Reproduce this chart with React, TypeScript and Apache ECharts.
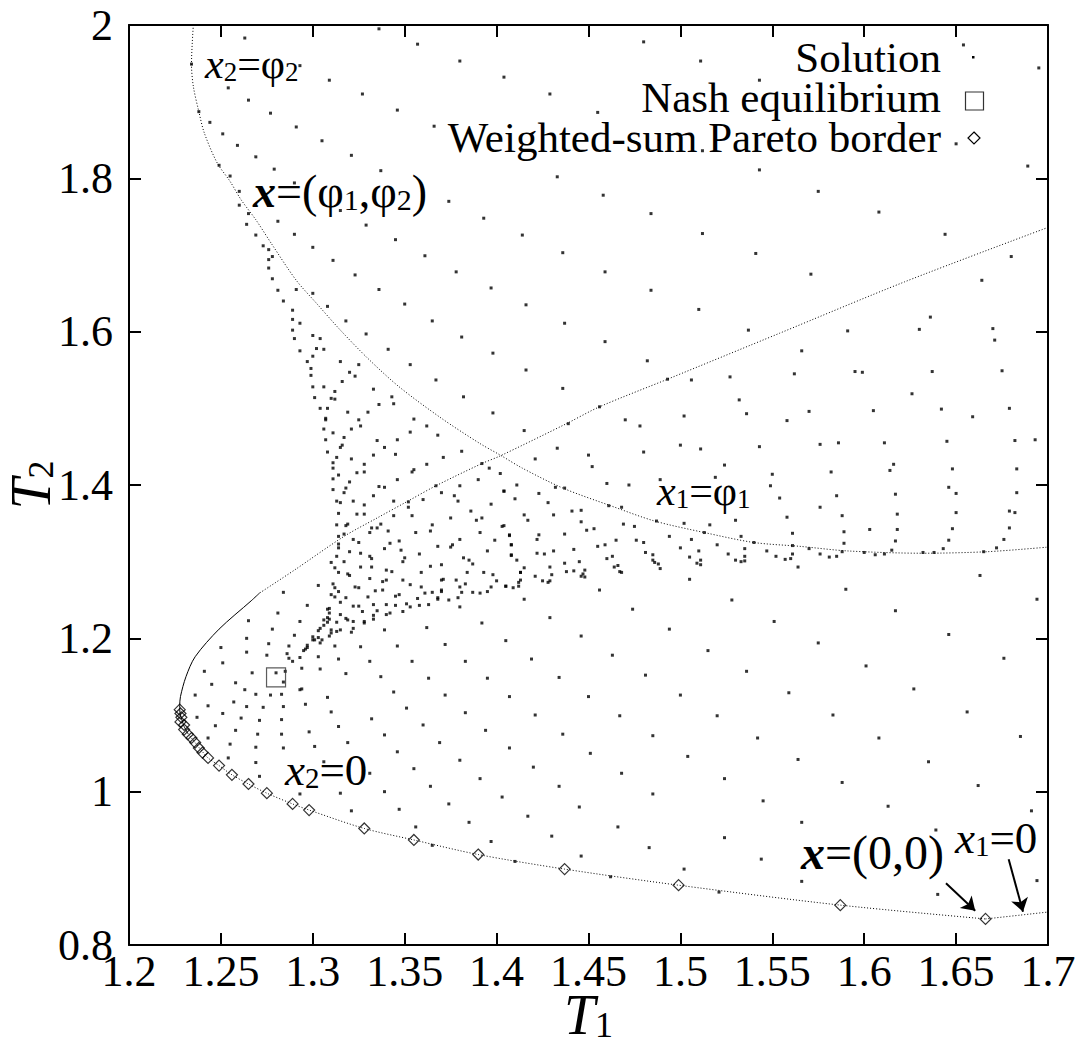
import React, { useEffect, useRef } from 'react';
import * as echarts from 'echarts';

const FONT = 'Liberation Serif';

// Axis ranges
const xRange = { min: 1.2, max: 1.7, interval: 0.05 };
const yRange = { min: 0.8, max: 2.0, interval: 0.2 };

// Solution points [T1, T2]
const solutionUpperLeft: number[][] = [
  [1.263,1.983],[1.336,1.995],[1.357,1.975],[1.380,1.953],[1.404,1.932],[1.309,1.928],[1.327,1.910],[1.293,1.947],
  [1.254,1.918],[1.265,1.902],[1.277,1.885],[1.291,1.867],[1.346,1.889],[1.244,1.873],[1.251,1.858],[1.259,1.843],
  [1.269,1.828],[1.305,1.849],[1.321,1.830],[1.279,1.812],[1.290,1.794],[1.337,1.810],[1.374,1.770],[1.393,1.748],
  [1.414,1.726],[1.315,1.758],[1.329,1.739],[1.281,1.744],[1.290,1.727],[1.300,1.710],[1.311,1.693],[1.323,1.674],
  [1.336,1.655],[1.350,1.636],[1.365,1.614],[1.381,1.593],[1.398,1.572],[1.416,1.550],[1.361,1.699],[1.378,1.678],
  [1.397,1.657],[1.416,1.635],[1.345,1.720],[1.366,1.868],[1.388,1.846],
  [1.234,1.949],[1.238,1.887],[1.249,1.817],[1.255,1.803],[1.260,1.783],[1.260,1.765],[1.265,1.754],[1.264,1.740],
  [1.269,1.726],[1.273,1.712],[1.276,1.707],[1.278,1.698],[1.276,1.694],[1.276,1.683],[1.278,1.669],[1.281,1.654],
  [1.284,1.640],[1.289,1.628],[1.289,1.616],[1.293,1.611],[1.289,1.602],[1.291,1.655],[1.300,1.650],[1.308,1.633],
  [1.318,1.614],[1.290,1.591],[1.300,1.595],[1.304,1.591],[1.302,1.578],[1.306,1.577],[1.293,1.575],[1.315,1.561],
  [1.325,1.557],[1.341,1.577],[1.329,1.597],[1.320,1.547],[1.323,1.542],[1.297,1.561],[1.299,1.552],[1.299,1.543],
  [1.300,1.528],[1.306,1.528],[1.312,1.522],[1.333,1.525],[1.343,1.515],[1.353,1.557],[1.367,1.537],[1.382,1.515],
  [1.310,1.513],[1.300,1.568],[1.316,1.535],[1.301,1.514],[1.312,1.512],
];

const solutionUpperRight: number[][] = [
  [1.480,1.978],[1.511,1.953],[1.543,1.928],[1.654,1.974],[1.695,1.944],[1.429,1.910],[1.455,1.886],[1.650,1.845],
  [1.512,1.836],[1.689,1.816],[1.433,1.802],[1.543,1.811],[1.458,1.778],[1.575,1.783],[1.484,1.754],[1.608,1.756],
  [1.512,1.728],[1.644,1.727],[1.436,1.703],[1.541,1.702],[1.680,1.698],[1.459,1.678],[1.571,1.675],[1.664,1.667],
  [1.484,1.654],[1.510,1.629],[1.636,1.619],[1.437,1.611],[1.537,1.602],[1.591,1.601],[1.630,1.603],[1.670,1.604],
  [1.671,1.589],[1.459,1.587],[1.566,1.575],[1.482,1.562],[1.506,1.537],[1.527,1.541],[1.562,1.545],[1.595,1.548],
  [1.599,1.547],[1.637,1.548],[1.675,1.549],[1.436,1.526],[1.626,1.519],[1.493,1.538],
];

const solutionRight: number[][] = [
  [1.570,1.496],[1.558,1.484],[1.605,1.497],[1.642,1.499],[1.659,1.489],[1.679,1.500],[1.576,1.453],[1.586,1.455],
  [1.611,1.455],[1.645,1.457],[1.682,1.458],[1.693,1.459],[1.616,1.427],[1.614,1.419],[1.582,1.417],[1.648,1.421],
  [1.683,1.421],[1.554,1.383],[1.585,1.386],[1.617,1.388],[1.646,1.397],[1.650,1.389],[1.683,1.390],[1.576,1.371],
  [1.558,1.358],[1.588,1.360],[1.618,1.362],[1.650,1.364],[1.679,1.366],[1.682,1.364],[1.561,1.337],[1.589,1.339],
  [1.603,1.342],[1.618,1.342],[1.648,1.343],[1.679,1.344],[1.561,1.321],[1.589,1.324],[1.617,1.327],[1.646,1.328],
  [1.676,1.329],[1.570,1.317],[1.615,1.315],[1.643,1.317],[1.672,1.318],[1.561,1.310],[1.560,1.304],[1.557,1.303],
  [1.576,1.310],[1.581,1.306],[1.585,1.307],[1.588,1.313],[1.600,1.312],[1.606,1.309],[1.611,1.310],[1.632,1.312],
  [1.638,1.312],[1.665,1.313],[1.564,1.293],[1.663,1.282],[1.590,1.264],[1.694,1.251],
];

const solutionMiddle: number[][] = [
  [1.456,1.502],[1.532,1.511],[1.536,1.493],[1.502,1.490],[1.470,1.485],[1.478,1.477],[1.439,1.480],[1.415,1.471],
  [1.500,1.452],[1.511,1.447],[1.543,1.450],[1.480,1.443],[1.433,1.448],[1.450,1.439],[1.421,1.434],[1.452,1.424],
  [1.524,1.426],[1.519,1.410],[1.489,1.407],[1.550,1.414],[1.549,1.399],[1.460,1.402],[1.472,1.400],[1.411,1.400],
  [1.432,1.397],[1.437,1.396],[1.404,1.392],[1.423,1.389],[1.410,1.382],[1.428,1.377],[1.461,1.373],[1.468,1.371],
  [1.441,1.366],[1.446,1.367],[1.415,1.361],[1.417,1.354],[1.431,1.361],[1.446,1.352],[1.530,1.354],[1.404,1.347],
  [1.469,1.349],[1.475,1.346],[1.502,1.350],[1.516,1.348],[1.449,1.341],[1.453,1.343],[1.487,1.353],[1.407,1.335],
  [1.423,1.335],[1.422,1.329],[1.437,1.336],[1.513,1.338],[1.494,1.333],[1.506,1.329],[1.533,1.333],[1.476,1.328],
  [1.480,1.325],[1.465,1.328],[1.408,1.322],[1.455,1.320],[1.459,1.322],[1.520,1.322],[1.540,1.325],[1.442,1.316],
  [1.431,1.314],[1.422,1.311],[1.426,1.310],[1.408,1.309],[1.500,1.318],[1.510,1.314],[1.526,1.310],[1.535,1.317],
  [1.535,1.307],[1.547,1.314],[1.552,1.307],[1.481,1.312],[1.485,1.309],[1.485,1.302],[1.486,1.299],[1.488,1.297],
  [1.489,1.291],[1.460,1.304],[1.463,1.307],[1.505,1.306],[1.511,1.302],[1.509,1.298],[1.511,1.296],[1.530,1.302],
  [1.533,1.300],[1.535,1.301],[1.411,1.302],[1.445,1.300],[1.429,1.293],[1.437,1.298],[1.466,1.295],[1.464,1.293],
  [1.467,1.287],[1.468,1.286],[1.415,1.292],[1.413,1.286],[1.438,1.287],[1.442,1.288],[1.448,1.289],[1.447,1.284],
  [1.446,1.281],[1.448,1.280],[1.430,1.283],[1.429,1.275],[1.425,1.275],[1.428,1.273],[1.421,1.281],[1.413,1.276],
  [1.412,1.268],[1.409,1.266],[1.405,1.268],[1.505,1.277],[1.456,1.263],[1.415,1.251],[1.528,1.250],[1.474,1.238],
  [1.429,1.227],
];

const solutionDense: number[][] = [
  [1.304,1.500],[1.308,1.500],[1.336,1.505],[1.344,1.506],[1.319,1.495],[1.330,1.495],[1.398,1.494],[1.307,1.487],
  [1.307,1.485],[1.325,1.485],[1.326,1.477],[1.355,1.486],[1.362,1.477],[1.306,1.473],[1.321,1.473],[1.311,1.468],
  [1.353,1.469],[1.368,1.465],[1.317,1.462],[1.307,1.459],[1.335,1.458],[1.346,1.459],[1.316,1.452],[1.315,1.449],
  [1.339,1.449],[1.381,1.444],[1.308,1.443],[1.345,1.440],[1.333,1.439],[1.371,1.436],[1.313,1.436],[1.321,1.434],
  [1.311,1.429],[1.311,1.422],[1.328,1.427],[1.362,1.427],[1.392,1.428],[1.396,1.422],[1.402,1.415],[1.355,1.420],
  [1.354,1.417],[1.324,1.416],[1.328,1.417],[1.314,1.413],[1.311,1.408],[1.346,1.407],[1.390,1.407],[1.320,1.404],
  [1.380,1.399],[1.336,1.398],[1.339,1.397],[1.367,1.399],[1.318,1.396],[1.317,1.390],[1.311,1.394],[1.404,1.392],
  [1.370,1.390],[1.333,1.386],[1.377,1.386],[1.379,1.379],[1.313,1.379],[1.315,1.377],[1.322,1.379],[1.328,1.374],
  [1.344,1.379],[1.360,1.381],[1.397,1.375],[1.352,1.378],[1.352,1.371],[1.386,1.366],[1.314,1.363],[1.324,1.362],
  [1.328,1.362],[1.344,1.360],[1.354,1.360],[1.375,1.357],[1.389,1.354],[1.392,1.357],[1.313,1.348],[1.318,1.347],
  [1.319,1.349],[1.337,1.349],[1.335,1.344],[1.332,1.344],[1.365,1.348],[1.364,1.340],[1.403,1.346],[1.317,1.336],
  [1.314,1.333],[1.331,1.338],[1.341,1.340],[1.356,1.338],[1.391,1.338],[1.407,1.334],[1.322,1.329],[1.347,1.327],
  [1.380,1.329],[1.399,1.328],[1.314,1.323],[1.314,1.318],[1.325,1.325],[1.342,1.324],[1.368,1.320],[1.376,1.322],
  [1.375,1.319],[1.408,1.322],[1.408,1.308],[1.320,1.313],[1.326,1.311],[1.339,1.317],[1.348,1.315],[1.358,1.310],
  [1.395,1.314],[1.313,1.307],[1.331,1.307],[1.332,1.304],[1.350,1.305],[1.349,1.300],[1.382,1.305],[1.385,1.302],
  [1.387,1.297],[1.310,1.299],[1.317,1.300],[1.326,1.293],[1.332,1.293],[1.364,1.294],[1.370,1.296],[1.312,1.292],
  [1.340,1.289],[1.343,1.287],[1.359,1.286],[1.384,1.286],[1.393,1.286],[1.413,1.286],[1.314,1.286],[1.319,1.284],
  [1.320,1.282],[1.331,1.278],[1.340,1.276],[1.349,1.276],[1.353,1.270],[1.359,1.267],[1.371,1.277],[1.370,1.276],
  [1.378,1.276],[1.383,1.271],[1.398,1.283],[1.400,1.275],[1.405,1.268],[1.412,1.273],[1.303,1.269],[1.311,1.271],
  [1.312,1.266],[1.323,1.267],[1.325,1.266],[1.338,1.274],[1.338,1.263],[1.334,1.262],[1.365,1.260],[1.370,1.263],
  [1.370,1.261],[1.380,1.267],[1.381,1.260],[1.387,1.260],[1.391,1.259],[1.395,1.261],[1.397,1.267],[1.284,1.260],
  [1.314,1.261],[1.310,1.257],[1.312,1.254],[1.318,1.253],[1.315,1.247],[1.330,1.254],[1.345,1.255],[1.347,1.257],
  [1.357,1.252],[1.361,1.259],[1.368,1.251],[1.368,1.253],[1.374,1.250],[1.379,1.253],[1.380,1.241],[1.322,1.242],
  [1.325,1.242],[1.333,1.244],[1.340,1.244],[1.345,1.243],[1.349,1.235],[1.351,1.245],[1.353,1.241],[1.358,1.243],
  [1.363,1.244],[1.297,1.243],[1.309,1.239],[1.308,1.238],[1.315,1.231],[1.309,1.233],[1.327,1.235],[1.333,1.230],
  [1.335,1.236],[1.333,1.225],[1.340,1.231],[1.342,1.233],[1.318,1.226],[1.319,1.224],[1.322,1.222],[1.328,1.222],
  [1.328,1.220],[1.308,1.227],[1.309,1.225],[1.306,1.224],[1.313,1.221],[1.281,1.233],[1.293,1.222],[1.308,1.221],
  [1.306,1.217],[1.304,1.213],[1.303,1.210],[1.310,1.211],[1.310,1.207],[1.315,1.211],[1.313,1.209],[1.322,1.213],
  [1.321,1.208],[1.339,1.211],[1.362,1.214],[1.392,1.220],[1.278,1.212],[1.290,1.204],[1.300,1.202],[1.303,1.201],
  [1.301,1.198],[1.300,1.198],[1.305,1.198],[1.309,1.203],[1.304,1.194],[1.312,1.190],[1.326,1.189],[1.346,1.190],
  [1.372,1.192],[1.405,1.197],[1.276,1.193],[1.287,1.190],[1.297,1.191],[1.297,1.188],[1.296,1.186],[1.295,1.184],
  [1.275,1.178],[1.286,1.180],[1.287,1.174],[1.293,1.175],[1.303,1.176],[1.314,1.173],
];

const solutionLowerLeft: number[][] = [
  [1.265,1.223],[1.250,1.188],[1.264,1.200],[1.264,1.182],[1.289,1.170],[1.446,1.203],[1.419,1.173],[1.331,1.170],
  [1.354,1.170],[1.383,1.170],[1.241,1.157],[1.251,1.168],[1.267,1.155],[1.280,1.155],[1.285,1.157],[1.284,1.143],
  [1.294,1.161],[1.294,1.134],[1.304,1.160],[1.318,1.154],[1.337,1.150],[1.363,1.148],[1.395,1.148],[1.434,1.149],
  [1.236,1.126],[1.245,1.140],[1.258,1.142],[1.263,1.133],[1.269,1.127],[1.277,1.126],[1.283,1.127],[1.293,1.133],
  [1.308,1.123],[1.344,1.130],[1.372,1.126],[1.407,1.124],[1.450,1.124],[1.243,1.112],[1.251,1.102],[1.257,1.117],
  [1.264,1.111],[1.273,1.110],[1.284,1.111],[1.296,1.114],[1.310,1.104],[1.351,1.109],[1.383,1.103],[1.421,1.100],
  [1.237,1.097],[1.247,1.086],[1.261,1.096],[1.271,1.093],[1.283,1.094],[1.314,1.085],[1.332,1.095],[1.360,1.087],
  [1.394,1.080],[1.436,1.075],[1.243,1.070],[1.258,1.080],[1.270,1.075],[1.283,1.075],[1.298,1.078],[1.319,1.064],
  [1.339,1.074],[1.369,1.064],[1.451,1.050],[1.255,1.062],[1.269,1.058],[1.284,1.057],[1.301,1.059],[1.346,1.052],
  [1.380,1.041],[1.407,1.057],[1.254,1.044],[1.269,1.038],[1.306,1.039],[1.331,1.024],[1.355,1.030],[1.391,1.017],
  [1.420,1.032],[1.271,1.020],[1.293,0.997],[1.315,0.998],[1.339,1.000],[1.364,1.007],[1.434,1.007],[1.321,0.975],
  [1.347,0.977],[1.374,0.984],[1.403,0.993],[1.445,0.980],[1.385,0.960],[1.417,0.968],[1.356,0.954],[1.397,0.935],
  [1.430,0.942],[1.365,0.930],[1.446,0.916],[1.410,0.909],
];

const solutionLowerRight: number[][] = [
  [1.617,1.236],[1.494,1.212],[1.551,1.222],[1.646,1.205],[1.463,1.178],[1.515,1.184],[1.575,1.194],[1.676,1.174],
  [1.481,1.152],[1.536,1.157],[1.601,1.164],[1.500,1.126],[1.559,1.129],[1.627,1.134],[1.467,1.099],[1.520,1.099],
  [1.583,1.100],[1.656,1.104],[1.485,1.073],[1.542,1.070],[1.608,1.070],[1.685,1.072],[1.504,1.046],[1.564,1.042],
  [1.635,1.039],[1.468,1.024],[1.524,1.017],[1.588,1.012],[1.662,1.008],[1.485,0.997],[1.545,0.988],[1.613,0.981],
  [1.691,0.975],[1.466,0.954],[1.524,0.940],[1.566,0.960],[1.639,0.950],[1.483,0.927],[1.544,0.912],[1.502,0.899],
  [1.566,0.883],[1.640,0.866],[1.694,0.884],[1.462,0.889],[1.521,0.869],
];

const nashPoint: number[][] = [[1.280, 1.149]];

const paretoPoints: number[][] = [
  [1.2276,1.107],[1.228,1.102],[1.2285,1.097],[1.228,1.091],[1.230,1.087],[1.230,1.081],[1.232,1.075],[1.234,1.070],
  [1.236,1.064],[1.238,1.057],[1.240,1.051],[1.243,1.044],[1.249,1.034],[1.256,1.022],[1.265,1.010],[1.275,0.998],
  [1.289,0.984],[1.298,0.976],[1.328,0.952],[1.355,0.937],[1.390,0.918],[1.437,0.899],[1.499,0.878],[1.587,0.852],
  [1.666,0.834],
];

// Curves
const phi2Curve: number[][] = [
  [1.235,2.0],[1.234,1.949],[1.235,1.920],[1.238,1.887],[1.241,1.859],[1.248,1.820],[1.255,1.796],[1.261,1.772],
  [1.269,1.746],[1.278,1.713],[1.291,1.667],[1.302,1.637],[1.315,1.602],[1.330,1.565],[1.347,1.528],[1.370,1.487],
  [1.391,1.454],[1.402,1.439],[1.414,1.422],[1.436,1.396],[1.462,1.373],[1.486,1.353],[1.513,1.338],[1.540,1.325],
  [1.565,1.320],[1.591,1.314],[1.632,1.311],[1.667,1.313],[1.700,1.319],
];

const phi1Curve: number[][] = [
  [1.700,1.736],[1.622,1.665],[1.554,1.598],[1.493,1.538],[1.456,1.502],[1.438,1.480],[1.402,1.438],[1.392,1.428],
  [1.367,1.399],[1.351,1.378],[1.335,1.357],[1.317,1.333],[1.290,1.289],[1.271,1.259],
];

const phi1CurveApex: number[][] = [
  [1.271,1.259],[1.2665,1.249],[1.249,1.212],[1.236,1.176],[1.231,1.150],[1.228,1.124],[1.2276,1.112],[1.2276,1.107],
  [1.228,1.100],[1.229,1.092],[1.230,1.085],[1.232,1.076],
];

const x2ZeroCurve: number[][] = [
  [1.232,1.076],[1.234,1.070],[1.236,1.064],[1.240,1.052],[1.243,1.044],[1.249,1.034],[1.256,1.022],[1.265,1.010],
  [1.275,0.998],[1.289,0.984],[1.298,0.976],[1.328,0.952],[1.355,0.937],[1.390,0.918],[1.437,0.899],[1.499,0.878],
  [1.587,0.852],[1.666,0.834],
];

const x1ZeroCurve: number[][] = [[1.666,0.834],[1.685,0.839],[1.700,0.843]];

const arrows: number[][][] = [
  [[1.6445, 0.8805], [1.6604, 0.8448]],
  [[1.6786, 0.9118], [1.6864, 0.8435]],
];

const legendLabels = ['Solution', 'Nash equilibrium', 'Weighted-sum Pareto border'];

const richStyles = (fs: number, sub: number) => ({
  i: { fontFamily: FONT, fontStyle: 'italic', fontSize: fs, verticalAlign: 'bottom', fill: '#000' },
  b: { fontFamily: FONT, fontStyle: 'italic', fontWeight: 'bold', fontSize: fs, verticalAlign: 'bottom', fill: '#000' },
  n: { fontFamily: FONT, fontSize: fs, verticalAlign: 'bottom', fill: '#000' },
  s: { fontFamily: FONT, fontSize: sub, verticalAlign: 'bottom', fill: '#000' },
});

function annot(text: string, x: number, y: number, fs: number, sub: number) {
  return {
    type: 'text',
    silent: true,
    z: 100,
    style: {
      text,
      x,
      y,
      rich: richStyles(fs, sub),
      fontFamily: FONT,
      fontSize: fs,
      fill: '#000',
      align: 'left',
      textAlign: 'left',
      verticalAlign: 'middle',
      textVerticalAlign: 'middle',
    },
  };
}

const dotted = { color: '#000', width: 1, type: [1, 2] as number[] };

export default function App() {
  const ref = useRef<HTMLDivElement>(null);

  useEffect(() => {
    document.body.style.margin = '0';
    if (!ref.current) return;
    const chart = echarts.init(ref.current, null, { renderer: 'svg' });

    const fmtX = (v: number) => String(Number(v.toFixed(2)));
    const fmtY = (v: number) => String(Number(v.toFixed(1)));

    const axisCommon = {
      type: 'value' as const,
      splitLine: { show: false },
      axisLine: { show: true, onZero: false, lineStyle: { color: '#000', width: 2 } },
      axisTick: { show: true, inside: true, length: 12, lineStyle: { color: '#000', width: 2 } },
    };

    const solution = [
      ...solutionUpperLeft, ...solutionUpperRight, ...solutionRight, ...solutionMiddle,
      ...solutionDense, ...solutionLowerLeft, ...solutionLowerRight,
    ];

    const nameRich = {
      t: { fontFamily: FONT, fontStyle: 'italic', fontSize: 56, lineHeight: 44, verticalAlign: 'bottom', color: '#000' },
      s: { fontFamily: FONT, fontSize: 36, lineHeight: 30, verticalAlign: 'bottom', color: '#000' },
    };

    const option: any = {
      animation: false,
      backgroundColor: '#fff',
      textStyle: { fontFamily: FONT },
      grid: { left: 129, right: 30, top: 25, bottom: 94, containLabel: false, outerBoundsMode: 'none' },
      xAxis: [
        {
          ...axisCommon,
          position: 'bottom',
          min: xRange.min, max: xRange.max, interval: xRange.interval,
          axisLabel: { fontFamily: FONT, fontSize: 44, color: '#000', margin: 4, formatter: fmtX, showMinLabel: true, showMaxLabel: true },
          name: '{t|T}{s|1}',
          nameLocation: 'middle',
          nameGap: 54,
          nameMoveOverlap: false,
          nameTextStyle: { fontFamily: FONT, rich: nameRich },
        },
        {
          ...axisCommon,
          position: 'top',
          min: xRange.min, max: xRange.max, interval: xRange.interval,
          axisLabel: { show: false },
        },
      ],
      yAxis: [
        {
          ...axisCommon,
          position: 'left',
          min: yRange.min, max: yRange.max, interval: yRange.interval,
          axisLabel: { fontFamily: FONT, fontSize: 44, color: '#000', margin: 16, formatter: fmtY, showMinLabel: true, showMaxLabel: true },
          name: '{t|T}{s|2}',
          nameLocation: 'middle',
          nameGap: 70,
          nameMoveOverlap: false,
          nameTextStyle: { fontFamily: FONT, rich: nameRich },
        },
        {
          ...axisCommon,
          position: 'right',
          min: yRange.min, max: yRange.max, interval: yRange.interval,
          axisLabel: { show: false },
        },
      ],
      series: [
        { name: 'x2=φ2', type: 'line', data: phi2Curve, symbol: 'none', smooth: 0.3, lineStyle: dotted, silent: true, z: 1 },
        { name: 'x1=φ1', type: 'line', data: phi1Curve, symbol: 'none', smooth: 0.3, lineStyle: dotted, silent: true, z: 1 },
        { name: 'apex', type: 'line', data: phi1CurveApex, symbol: 'none', smooth: 0.3, lineStyle: { color: '#000', width: 1 }, silent: true, z: 1 },
        { name: 'x2=0', type: 'line', data: x2ZeroCurve, symbol: 'none', smooth: 0.3, lineStyle: dotted, silent: true, z: 1 },
        { name: 'x1=0', type: 'line', data: x1ZeroCurve, symbol: 'none', smooth: 0.3, lineStyle: dotted, silent: true, z: 1 },
        {
          name: legendLabels[0], type: 'scatter', data: solution, symbol: 'rect', symbolSize: 3,
          itemStyle: { color: '#000' }, silent: true, z: 3,
        },
        {
          name: legendLabels[1], type: 'scatter', data: nashPoint, symbol: 'rect', symbolSize: 19,
          itemStyle: { color: 'rgba(0,0,0,0)', borderColor: '#333', borderWidth: 1.2 }, silent: true, z: 4,
        },
        {
          name: legendLabels[2], type: 'scatter', data: paretoPoints, symbol: 'diamond', symbolSize: 11,
          itemStyle: { color: 'rgba(0,0,0,0)', borderColor: '#000', borderWidth: 1.2 }, silent: true, z: 4,
        },
        {
          name: 'arrows', type: 'lines', coordinateSystem: 'cartesian2d',
          data: arrows.map((c) => ({ coords: c })),
          symbol: ['none', 'arrow'], symbolSize: 13,
          lineStyle: { color: '#000', width: 2, opacity: 1 }, silent: true, z: 5,
        },
      ],
      graphic: [
        {
          type: 'text',
          silent: true,
          z: 100,
          style: {
            text: legendLabels.join('\n'),
            x: 941,
            y: 37.5,
            fontFamily: FONT,
            fontSize: 43,
            lineHeight: 40,
            fill: '#000',
            align: 'right',
            textAlign: 'right',
            verticalAlign: 'top',
            textVerticalAlign: 'top',
          },
        },
        { type: 'rect', silent: true, z: 100, shape: { x: 972, y: 56, width: 2.5, height: 2.5 }, style: { fill: '#000' } },
        { type: 'rect', silent: true, z: 100, shape: { x: 965.5, y: 92, width: 18, height: 18 }, style: { fill: 'none', stroke: '#333', lineWidth: 1.2 } },
        { type: 'polygon', silent: true, z: 100, shape: { points: [[974, 132], [980, 138], [974, 144], [968, 138]] }, style: { fill: 'none', stroke: '#000', lineWidth: 1.2 } },
        annot('{i|x}{s|2}{n|=φ}{s|2}', 205, 64, 42, 27),
        annot('{b|x}{n|=(φ}{s|1}{n|,φ}{s|2}{n|)}', 253, 191, 46, 30),
        annot('{i|x}{s|1}{n|=φ}{s|1}', 657, 491, 42, 27),
        annot('{i|x}{s|2}{n|=0}', 285, 770, 45, 29),
        annot('{b|x}{n|=(0,0)}', 801, 852, 48, 30),
        annot('{i|x}{s|1}{n|=0}', 955, 838, 45, 29),
      ],
    };

    chart.setOption(option);
    return () => chart.dispose();
  }, []);

  return <div ref={ref} style={{ position: 'absolute', left: 0, top: 0, width: 1078, height: 1039, background: '#fff' }} />;
}
